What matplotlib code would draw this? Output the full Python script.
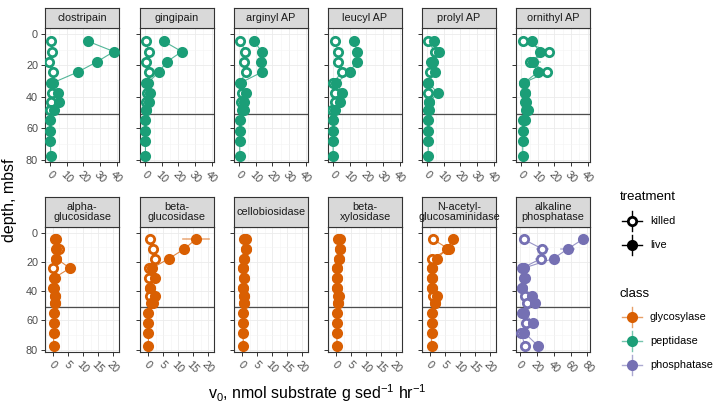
import numpy as np
import matplotlib.pyplot as plt
from matplotlib.ticker import MultipleLocator

plt.rcParams['font.family'] = ['Liberation Sans', 'DejaVu Sans']
plt.rcParams['mathtext.default'] = 'regular'

W, H = 720, 407
n = np.nan

# depth of each sample, mbsf
depth = [4.6, 11.2, 17.7, 24.3, 31.0, 37.6, 43.1, 48.1, 54.9, 61.6, 68.2, 77.6]

# peptidases (top row)
clostripain_live = [22.6, 38.4, 28.2, 16.4, 1.6, 4.6, 5.2, 2.0, 0.0, 0.0, 0.0, 0.2]
clostripain_killed = [0.6, 1.2, -0.8, 1.6, 0.3, 1.2, 0.5, -0.3, n, n, n, n]
gingipain_live = [11.0, 22.0, 13.0, 8.0, 1.6, 2.6, 2.2, 0.6, 0.0, 0.0, 0.0, 0.0]
gingipain_killed = [0.2, 2.0, 0.2, 2.2, 0.2, 1.0, 0.6, 0.2, n, n, n, n]
arginyl_live = [8.6, 13.6, 12.8, 13.6, 0.8, 3.8, 3.0, 2.6, 0.2, 0.2, 0.2, 0.2]
arginyl_killed = [0.6, 3.6, 3.0, 3.8, 0.5, 1.4, 0.8, 1.6, n, n, n, n]
leucyl_live = [12.4, 14.4, 14.0, 9.8, 1.8, 5.4, 4.2, 1.0, -0.2, -0.2, -0.2, -0.2]
leucyl_killed = [0.8, 3.0, 2.6, 5.0, 0.0, 1.2, 0.8, -0.6, n, n, n, n]
prolyl_live = [3.8, 7.2, 3.2, 4.6, 0.6, 6.2, 1.2, 1.0, 0.5, 0.5, 0.5, 0.5]
prolyl_killed = [0.2, 4.6, 2.2, 1.8, 0.5, 0.6, 0.8, 0.6, n, n, n, n]
ornithyl_live = [6.2, 11.0, 7.2, 9.8, 1.8, 2.0, 2.2, 4.2, 1.0, 0.8, 0.8, 0.8]
ornithyl_killed = [1.0, 16.6, 5.0, 15.6, 1.5, 2.0, 3.0, 2.5, 2.2, n, n, n]
ornithyl_live_sd = [0, 1.5, 4.0, 1.5, 0, 0, 0, 0, 0, 0, 0, 0]
ornithyl_killed_sd = [0, 1.5, 0, 2.0, 0, 0, 0, 0, 0, 0, 0, 0]

# glycosylases + phosphatase (bottom row)
aglu_live = [0.8, 1.1, 1.1, 5.6, 0.3, 0.1, 0.8, 0.7, 0.2, 0.2, 0.2, 0.2]
aglu_killed = [1.0, 2.0, 1.0, 0.0, 0.5, 0.4, 0.5, 0.5, n, n, n, n]
bglu_live = [15.9, 12.1, 7.0, 1.3, 2.2, 0.8, 2.4, 1.6, 0.1, 0.1, 0.1, 0.1]
bglu_killed = [0.8, 1.8, 2.2, 0.4, 0.4, 0.6, 0.6, 0.9, n, n, n, n]
bglu_live_sd = [4.4, 0, 0, 0, 0, 0, 0, 0, 0, 0, 0, 0]
cello_live = [1.2, 1.4, 0.7, 0.4, 0.6, 0.4, 0.6, 0.8, 0.4, 0.4, 0.4, 0.4]
cello_killed = [0.6, 1.3, 0.7, 0.4, 0.6, 0.4, 0.6, 0.8, n, n, n, n]
bxyl_live = [1.2, 1.4, 0.9, 0.3, 0.3, 0.3, 0.9, 0.8, 0.3, 0.3, 0.3, 0.3]
bxyl_killed = [0.7, 1.3, 0.9, 0.3, 0.3, 0.3, 0.8, 0.8, n, n, n, n]
nag_live = [7.5, 5.6, 2.3, 0.5, 0.5, 0.5, 2.3, 1.7, 0.5, 0.5, 0.5, 0.5]
nag_killed = [1.0, 6.2, 0.8, 0.5, 0.5, 0.5, 1.0, 1.5, n, n, n, n]
nag_killed_sd = [0, 1.0, 0, 0, 0, 0, 0, 0, 0, 0, 0, 0]
ap_live = [74.4, 56.4, 39.6, 4.0, 5.6, 2.4, 14.0, 17.6, 4.8, 15.6, 4.8, 21.6]
ap_killed = [4.0, 26.4, 24.8, 2.4, 4.0, 2.0, 6.0, 8.4, 2.4, 6.8, 0.8, 6.0]
ap_live_sd = [0, 8.0, 0, 0, 0, 0, 0, 0, 0, 0, 0, 0]
ap_killed_sd = [0, 7.0, 6.0, 0, 0, 0, 0, 0, 0, 0, 0, 0]

col_gly = '#D95F02'
col_pep = '#1B9E77'
col_pho = '#7570B3'

zero = [0] * 12
top_panels = [
    ('clostripain', clostripain_live, clostripain_killed, zero, zero, col_pep),
    ('gingipain', gingipain_live, gingipain_killed, zero, zero, col_pep),
    ('arginyl AP', arginyl_live, arginyl_killed, zero, zero, col_pep),
    ('leucyl AP', leucyl_live, leucyl_killed, zero, zero, col_pep),
    ('prolyl AP', prolyl_live, prolyl_killed, zero, zero, col_pep),
    ('ornithyl AP', ornithyl_live, ornithyl_killed, ornithyl_live_sd, ornithyl_killed_sd, col_pep),
]
bottom_panels = [
    ('alpha-\nglucosidase', aglu_live, aglu_killed, zero, zero, col_gly),
    ('beta-\nglucosidase', bglu_live, bglu_killed, bglu_live_sd, zero, col_gly),
    ('cellobiosidase', cello_live, cello_killed, zero, zero, col_gly),
    ('beta-\nxylosidase', bxyl_live, bxyl_killed, zero, zero, col_gly),
    ('N-acetyl-\nglucosaminidase', nag_live, nag_killed, zero, nag_killed_sd, col_gly),
    ('alkaline\nphosphatase', ap_live, ap_killed, ap_live_sd, ap_killed_sd, col_pho),
]

fig = plt.figure(figsize=(7.2, 4.07), dpi=100)


def px_axes(x0, y0, x1, y1):
    return fig.add_axes([x0 / W, 1 - y1 / H, (x1 - x0) / W, (y1 - y0) / H])


lefts = [45, 140, 234, 328, 422, 516]
pw = 74


def draw_panel(ax, live, killed, live_sd, killed_sd, color, xlim, major, minor, first):
    d = np.array(depth)
    lv = np.array(live, dtype=float)
    kv = np.array(killed, dtype=float)
    ax.axhline(51, color='#4D4D4D', lw=0.9, zorder=1)
    for vals, sd, filled in [(kv, killed_sd, False), (lv, live_sd, True)]:
        ok = ~np.isnan(vals)
        ax.plot(vals[ok], d[ok], color=color, lw=0.8, alpha=0.75, zorder=2)
        sd = np.array(sd, dtype=float)
        for x, y, s in zip(vals[ok], d[ok], sd[ok]):
            if s > 0:
                ax.plot([x - s, x + s], [y, y], color=color, lw=1.2, alpha=0.5, zorder=2)
        ax.plot(vals[ok], d[ok], 'o', ls='none', ms=6.0,
                mfc=color if filled else 'white', mec=color,
                mew=2.0, zorder=4 if filled else 3)
    ax.set_xlim(*xlim)
    ax.set_ylim(81.5, -3.8)
    ax.xaxis.set_major_locator(MultipleLocator(major))
    ax.xaxis.set_minor_locator(MultipleLocator(minor))
    ax.yaxis.set_major_locator(MultipleLocator(20))
    ax.yaxis.set_minor_locator(MultipleLocator(10))
    ax.grid(True, which='major', color='#EBEBEB', lw=0.6, zorder=0)
    ax.grid(True, which='minor', color='#F3F3F3', lw=0.4, zorder=0)
    ax.set_axisbelow(True)
    ax.tick_params(which='minor', length=0)
    ax.tick_params(which='major', length=3, width=0.7, color='#333333',
                   labelsize=7.8, labelcolor='#4D4D4D', pad=2)
    for lab in ax.get_xticklabels():
        lab.set_rotation(-45)
        lab.set_ha('center')
        lab.set_va('top')
    if not first:
        ax.set_yticklabels([])
    for sp in ax.spines.values():
        sp.set_color('#333333')
        sp.set_linewidth(0.8)


def draw_strip(x0, y0, y1, label):
    sa = px_axes(x0, y0, x0 + pw, y1)
    sa.set_facecolor('#D9D9D9')
    sa.set_xticks([])
    sa.set_yticks([])
    for sp in sa.spines.values():
        sp.set_color('#333333')
        sp.set_linewidth(0.8)
    sa.text(0.5, 0.5, label, ha='center', va='center', fontsize=7.8,
            color='#1A1A1A', linespacing=1.0, transform=sa.transAxes)


for i, (name, lv, kv, lsd, ksd, color) in enumerate(top_panels):
    ax = px_axes(lefts[i], 28, lefts[i] + pw, 162)
    draw_panel(ax, lv, kv, lsd, ksd, color, (-3.3, 41.5), 10, 5, i == 0)
    draw_strip(lefts[i], 8, 28, name)

for i, (name, lv, kv, lsd, ksd, color) in enumerate(bottom_panels):
    ax = px_axes(lefts[i], 227, lefts[i] + pw, 352)
    if i == 5:
        draw_panel(ax, lv, kv, lsd, ksd, color, (-5, 83), 20, 10, False)
    else:
        draw_panel(ax, lv, kv, lsd, ksd, color, (-2.7, 22), 5, 2.5, i == 0)
    draw_strip(lefts[i], 197, 227, name)

fig.text(10 / W, 1 - 200 / H, 'depth, mbsf', rotation=90, ha='center', va='center',
         fontsize=11.5)
fig.text(317 / W, 1 - 393 / H, r'v$_0$, nmol substrate g sed$^{-1}$ hr$^{-1}$',
         ha='center', va='center', fontsize=11.5)

# legend, drawn in pixel coordinates
lg = px_axes(595, 180, 720, 380)
lg.set_xlim(595, 720)
lg.set_ylim(380, 180)
lg.axis('off')
lg.text(620, 197, 'treatment', fontsize=9.5, va='center', ha='left')
lg.text(620, 294, 'class', fontsize=9.5, va='center', ha='left')
keys = [(221, 'killed', 'black', False), (245, 'live', 'black', True),
        (317, 'glycosylase', col_gly, True), (341, 'peptidase', col_pep, True),
        (365, 'phosphatase', col_pho, True)]
for y, lab, c, filled in keys:
    a = 0.6 if c != 'black' else 1.0
    lg.plot([622, 642], [y, y], color=c, lw=1.0, alpha=a)
    lg.plot([632, 632], [y - 10, y + 10], color=c, lw=1.0, alpha=a)
    lg.plot([632], [y], 'o', ms=6.0, mfc=c if filled else 'white', mec=c, mew=2.0)
    lg.text(650, y, lab, fontsize=7.8, va='center', ha='left')

fig.savefig('out.png', dpi=100)
